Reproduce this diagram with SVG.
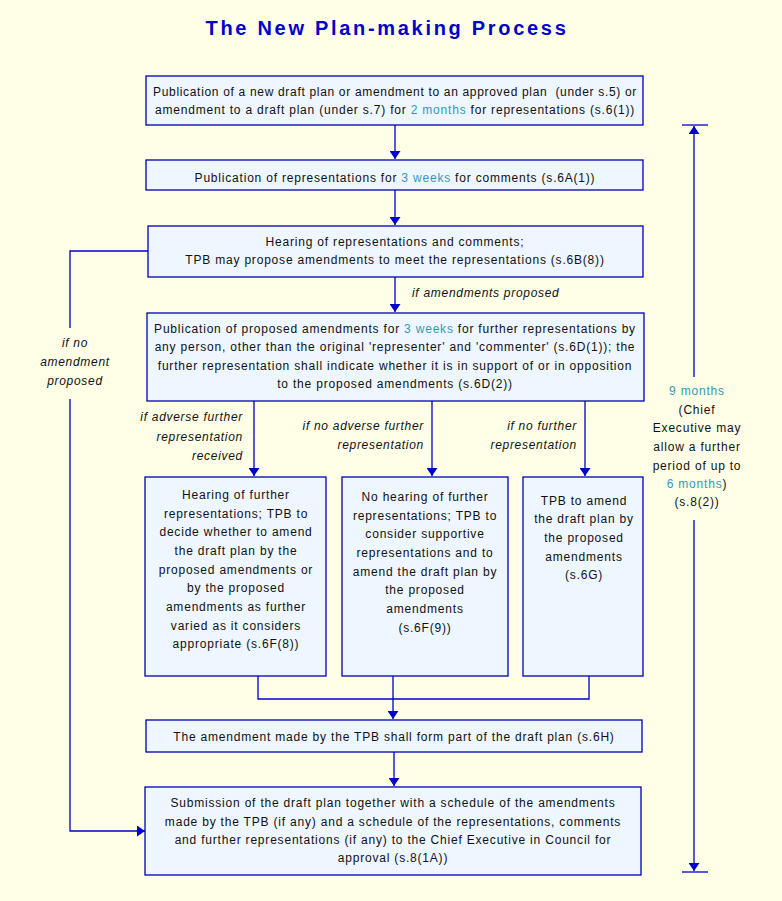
<svg xmlns="http://www.w3.org/2000/svg" width="782" height="901" viewBox="0 0 782 901">
<style>
.bx{fill:#EEF6FF;stroke:#0000B4;stroke-width:1.3}
.t{font-family:"Liberation Sans",Arial,sans-serif;font-size:12px;fill:#111;letter-spacing:0.8px;text-anchor:middle}
.i{font-family:"Liberation Sans",Arial,sans-serif;font-size:12px;font-style:italic;fill:#111;letter-spacing:0.7px}
.r{text-anchor:end}
.m{text-anchor:middle}
.hl{fill:#3399BB}
.ln{fill:none;stroke:#0000CC;stroke-width:1.3}
.title{font-family:"Liberation Sans",Arial,sans-serif;font-size:20px;font-weight:bold;fill:#0000CC;letter-spacing:2.7px;text-anchor:middle}
</style>
<defs>
<marker id="ah" viewBox="0 0 8 11" refX="8" refY="5.5" markerWidth="8" markerHeight="11" markerUnits="userSpaceOnUse" orient="auto">
<path d="M0,0 L8,5.5 L0,11 z" fill="#0000CC"/>
</marker>
</defs>
<rect width="782" height="901" fill="#FFFFE8"/>
<text class="title" x="387" y="35">The New Plan-making Process</text>

<g id="connectors">
<path class="ln" d="M395,125 V159" marker-end="url(#ah)"/>
<path class="ln" d="M395,190 V225" marker-end="url(#ah)"/>
<path class="ln" d="M395,277 V312" marker-end="url(#ah)"/>
<path class="ln" d="M148,251 H70 V328"/>
<path class="ln" d="M70,399 V831 H145" marker-end="url(#ah)"/>
<path class="ln" d="M254,401 V476" marker-end="url(#ah)"/>
<path class="ln" d="M432,401 V476" marker-end="url(#ah)"/>
<path class="ln" d="M585,401 V476" marker-end="url(#ah)"/>
<path class="ln" d="M258,676 V699 H589 V676"/>
<path class="ln" d="M393,676 V719" marker-end="url(#ah)"/>
<path class="ln" d="M394,752 V786" marker-end="url(#ah)"/>
<path class="ln" d="M694,377 V126" marker-end="url(#ah)"/>
<path class="ln" d="M682,125 H708"/>
<path class="ln" d="M694,520 V871" marker-end="url(#ah)"/>
<path class="ln" d="M682,872 H708"/>
<text class="i" x="412" y="297">if amendments proposed</text>
<text class="i m" x="75" y="347">if no</text>
<text class="i m" x="75" y="366">amendment</text>
<text class="i m" x="75" y="385">proposed</text>
<text class="i r" x="243" y="421">if adverse further</text>
<text class="i r" x="243" y="441">representation</text>
<text class="i r" x="243" y="460">received</text>
<text class="i r" x="424" y="430">if no adverse further</text>
<text class="i r" x="424" y="449">representation</text>
<text class="i r" x="577" y="430">if no further</text>
<text class="i r" x="577" y="449">representation</text>
</g>

<g id="n1">
<rect class="bx" x="146" y="76" width="497" height="49"/>
<text class="t" x="395" y="96" style="white-space:pre;letter-spacing:0.68px">Publication of a new draft plan or amendment to an approved plan  (under s.5) or</text>
<text class="t" x="395" y="114">amendment to a draft plan (under s.7) for <tspan class="hl">2 months</tspan> for representations (s.6(1))</text>
</g>

<g id="n2">
<rect class="bx" x="146" y="160" width="497" height="30"/>
<text class="t" x="395" y="182">Publication of representations for <tspan class="hl">3 weeks</tspan> for comments (s.6A(1))</text>
</g>

<g id="n3">
<rect class="bx" x="148" y="226" width="495" height="51"/>
<text class="t" x="395" y="246">Hearing of representations and comments;</text>
<text class="t" x="395" y="264">TPB may propose amendments to meet the representations (s.6B(8))</text>
</g>

<g id="n4">
<rect class="bx" x="147" y="313" width="497" height="88"/>
<text class="t" x="395" y="333">Publication of proposed amendments for <tspan class="hl">3 weeks</tspan> for further representations by</text>
<text class="t" x="395" y="351">any person, other than the original 'representer' and 'commenter' (s.6D(1)); the</text>
<text class="t" x="395" y="370">further representation shall indicate whether it is in support of or in opposition</text>
<text class="t" x="395" y="388">to the proposed amendments (s.6D(2))</text>
</g>

<g id="n5">
<rect class="bx" x="145" y="477" width="181" height="199"/>
<text class="t" x="236" y="499">Hearing of further</text>
<text class="t" x="236" y="518">representations; TPB to</text>
<text class="t" x="236" y="536">decide whether to amend</text>
<text class="t" x="236" y="555">the draft plan by the</text>
<text class="t" x="236" y="574">proposed amendments or</text>
<text class="t" x="236" y="592">by the proposed</text>
<text class="t" x="236" y="611">amendments as further</text>
<text class="t" x="236" y="630">varied as it considers</text>
<text class="t" x="236" y="648">appropriate (s.6F(8))</text>
</g>

<g id="n6">
<rect class="bx" x="342" y="477" width="166" height="199"/>
<text class="t" x="425" y="501">No hearing of further</text>
<text class="t" x="425" y="520">representations; TPB to</text>
<text class="t" x="425" y="538">consider supportive</text>
<text class="t" x="425" y="557">representations and to</text>
<text class="t" x="425" y="576">amend the draft plan by</text>
<text class="t" x="425" y="594">the proposed</text>
<text class="t" x="425" y="613">amendments</text>
<text class="t" x="425" y="632">(s.6F(9))</text>
</g>

<g id="n7">
<rect class="bx" x="523" y="477" width="120" height="199"/>
<text class="t" x="584" y="505">TPB to amend</text>
<text class="t" x="584" y="523">the draft plan by</text>
<text class="t" x="584" y="542">the proposed</text>
<text class="t" x="584" y="561">amendments</text>
<text class="t" x="584" y="579">(s.6G)</text>
</g>

<g id="n8">
<rect class="bx" x="146" y="720" width="496" height="32"/>
<text class="t" x="394" y="741">The amendment made by the TPB shall form part of the draft plan (s.6H)</text>
</g>

<g id="n9">
<rect class="bx" x="145" y="787" width="496" height="88"/>
<text class="t" x="393" y="807">Submission of the draft plan together with a schedule of the amendments</text>
<text class="t" x="393" y="826">made by the TPB (if any) and a schedule of the representations, comments</text>
<text class="t" x="393" y="844">and further representations (if any) to the Chief Executive in Council for</text>
<text class="t" x="393" y="862">approval (s.8(1A))</text>
</g>

<g id="timing">
<text class="t hl" x="697" y="395">9 months</text>
<text class="t" x="697" y="414">(Chief</text>
<text class="t" x="697" y="432">Executive may</text>
<text class="t" x="697" y="451">allow a further</text>
<text class="t" x="697" y="470">period of up to</text>
<text class="t" x="697" y="488"><tspan class="hl">6 months</tspan>)</text>
<text class="t" x="697" y="506">(s.8(2))</text>
</g>
</svg>
